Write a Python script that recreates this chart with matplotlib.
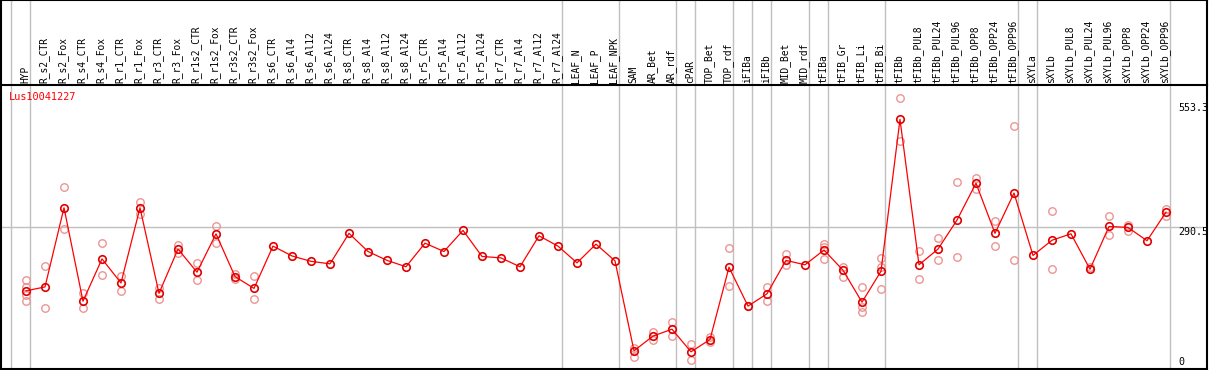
import matplotlib
matplotlib.use("Agg")
import matplotlib.pyplot as plt

# Figure geometry (pixels at dpi 100)
DPI_VALUE = 100
WIDTH_PX, HEIGHT_PX = 1209, 370
HEADER_PX = 85
GRID_COLOR = "#c0c0c0"
FONT = "DejaVu Sans Mono"

GENE_NAME = "Lus10041227"

categories = [
    "HYP", "R_s2_CTR", "R_s2_Fox", "R_s4_CTR", "R_s4_Fox", "R_r1_CTR", "R_r1_Fox",
    "R_r3_CTR", "R_r3_Fox", "R_r1s2_CTR", "R_r1s2_Fox", "R_r3s2_CTR", "R_r3s2_Fox",
    "R_s6_CTR", "R_s6_Al4", "R_s6_Al12", "R_s6_Al24", "R_s8_CTR", "R_s8_Al4",
    "R_s8_Al12", "R_s8_Al24", "R_r5_CTR", "R_r5_Al4", "R_r5_Al12", "R_r5_Al24",
    "R_r7_CTR", "R_r7_Al4", "R_r7_Al12", "R_r7_Al24", "LEAF_N", "LEAF_P", "LEAF_NPK",
    "SAM", "AR_Bet", "AR_rdf", "cPAR", "TOP_Bet", "TOP_rdf", "iFIBa", "iFIBb",
    "MID_Bet", "MID_rdf", "tFIBa", "tFIB_Gr", "tFIB_Li", "tFIB_Bi", "tFIBb",
    "tFIBb_PUL8", "tFIBb_PUL24", "tFIBb_PUL96", "tFIBb_OPP8", "tFIBb_OPP24",
    "tFIBb_OPP96", "sXYLa", "sXYLb", "sXYLb_PUL8", "sXYLb_PUL24", "sXYLb_PUL96",
    "sXYLb_OPP8", "sXYLb_OPP24", "sXYLb_OPP96",
]

# mean expression per sample
means = [
    161, 169, 330, 140, 226, 177, 330, 156, 246, 199, 277, 190, 166,
    252, 232, 221, 216, 278, 241, 223, 210, 258, 241, 284, 231,
    228, 210, 273, 252, 218, 256, 222,
    39, 69, 83, 37, 62, 209, 130, 155, 223, 214, 244, 203, 138, 201, 510,
    214, 246, 305, 380, 278, 360, 233, 264, 277, 205, 292, 290, 263, 321,
]

# individual replicates per sample
replicates = [
    [183, 169, 153, 141], [212, 126], [372, 286], [157, 126], [258, 193],
    [191, 160], [342, 317], [167, 144], [254, 237], [218, 183], [293, 259],
    [195, 186], [191, 144],
    [], [], [], [], [], [], [], [], [], [], [], [],
    [], [], [], [], [], [], [],
    [45, 26], [77, 61], [97, 70], [52, 20], [67, 56], [248, 170], [130],
    [169, 140], [235, 214], [], [256, 225, 250], [210, 189], [168, 129, 117],
    [228, 210, 164], [553, 466],
    [242, 185], [269, 223], [382, 229], [391, 368], [303, 252], [496, 223],
    [], [323, 205], [], [210], [313, 274], [295, 283], [], [328, 313],
]

# group separators: a line before these sample indices
group_starts = [0, 1, 29, 32, 35, 36, 38, 39, 40, 42, 43, 46, 53, 54, 61]

axis_labels = ["553.3", "290.5", "0"]
axis_label_values = [544, 290.5, 16]

# pixel mapping: sample i sits at 26 + 19*i px, value v at 370 - 0.4916*v px
X0, DX = 26, 19
PX_PER_UNIT = 0.4916
x_left = (1 - X0) / DX
x_right = (1207 - X0) / DX

fig = plt.figure(figsize=(WIDTH_PX / DPI_VALUE, HEIGHT_PX / DPI_VALUE), dpi=DPI_VALUE)

left_f = 1 / WIDTH_PX
width_f = (1207 - 1) / WIDTH_PX

# header with sample names
hax = fig.add_axes([left_f, (HEIGHT_PX - HEADER_PX) / HEIGHT_PX, width_f, HEADER_PX / HEIGHT_PX])
hax.set_xlim(x_left, x_right)
hax.set_ylim(HEADER_PX, 0)
hax.set_xticks([])
hax.set_yticks([])
for s in hax.spines.values():
    s.set_color("black")
    s.set_linewidth(1.5)
hax.spines["bottom"].set_visible(False)

# plot area
ax = fig.add_axes([left_f, 1 / HEIGHT_PX, width_f, (HEIGHT_PX - HEADER_PX - 1) / HEIGHT_PX])
ax.set_xlim(x_left, x_right)
ax.set_ylim((370 - 369) / PX_PER_UNIT, (370 - HEADER_PX) / PX_PER_UNIT)
ax.set_xticks([])
ax.set_yticks([])
for s in ax.spines.values():
    s.set_color("black")
    s.set_linewidth(1.5)

for g in group_starts:
    xpos = g - 15 / DX
    hax.axvline(xpos, color=GRID_COLOR, lw=1.0, zorder=0)
    ax.axvline(xpos, color=GRID_COLOR, lw=1.0, zorder=0)
ax.axhline(290.5, color=GRID_COLOR, lw=1.0, zorder=0)

for i, name in enumerate(categories):
    hax.text(i - 1 / DX, 83, name, rotation=90, ha="center", va="bottom",
             fontsize=6.9, family=FONT, color="black")

xs = list(range(len(categories)))
rx, ry = [], []
for i, reps in enumerate(replicates):
    for v in reps:
        rx.append(i)
        ry.append(v)
ax.plot(rx, ry, ls="none", marker="o", ms=5.4, mfc="none", mec="#ec9494", mew=1.0, zorder=2)
ax.plot(xs, means, color="red", lw=0.9, zorder=3)
ax.plot(xs, means, ls="none", marker="o", ms=5.4, mfc="none", mec="#e00000", mew=1.2, zorder=4)

ax.text(x_left + 8 / DX, (370 - 97) / PX_PER_UNIT, GENE_NAME, color="red",
        fontsize=7.4, family=FONT, ha="left", va="center")
for lab, v in zip(axis_labels, axis_label_values):
    ax.text((1178 - X0) / DX, v, lab, fontsize=7.2, family=FONT,
            ha="left", va="top" if lab != "0" else "center", color="black")

fig.savefig("out.png", dpi=DPI_VALUE, facecolor="white")
